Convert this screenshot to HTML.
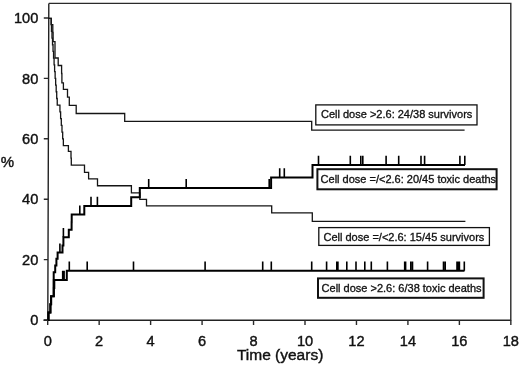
<!DOCTYPE html>
<html><head><meta charset="utf-8"><style>
html,body{margin:0;padding:0;background:#fff;}
svg{display:block;}
text{font-family:"Liberation Sans",Arial,sans-serif;fill:#111;stroke:#111;stroke-width:0.4px;}
.bx text{stroke-width:0.32px;}
</style></head><body>
<svg width="520" height="366" viewBox="0 0 520 366">
<rect width="520" height="366" fill="#fff"/>
<path d="M48.8 3.4 H510.8 V320.4" fill="none" stroke="#2a2a2a" stroke-width="1.4"/>
<path d="M48.8 3.4 L47.8 320.4 M43.5 320.3 H510.8" fill="none" stroke="#222" stroke-width="1.4"/>
<path d="M43.8 320 H47.8 M43.8 259.6 H47.99 M43.8 199.2 H48.18 M43.8 138.8 H48.37 M43.8 78.4 H48.56 M43.8 18 H48.75  M47.7 320 V325 M99.16 320 V325 M150.62 320 V325 M202.08 320 V325 M253.54 320 V325 M305 320 V325 M356.46 320 V325 M407.92 320 V325 M459.38 320 V325 M510.84 320 V325 " fill="none" stroke="#2a2a2a" stroke-width="1.4"/>
<path d="M48 18.3 L51.2 18.3 L51.2 24.6 L52.8 24.6 L52.8 32.5 L53.1 32.5 L53.1 41.6 L55 41.6 L55 50 L55 50 L55 58 L58.2 58 L58.2 65.5 L61.6 65.5 L61.6 73.5 L61.9 73.5 L61.9 82.8 L63.4 82.8 L63.4 89.4 L67.5 89.4 L67.5 97.2 L69.3 97.2 L69.3 105.4 L76.2 105.4 L76.2 113.5 L124.7 113.5 L124.7 121.4 L311.7 121.4 L311.7 130.2 L464.6 130.2 L464.6 130.2" fill="none" stroke="#151515" stroke-width="1.3"/>
<path d="M48 18.3 L51.2 18.3 L51.2 24.6 L51.46 24.6 L51.46 31.32 L51.99 31.32 L51.99 38.03 L52.51 38.03 L52.51 44.75 L53.04 44.75 L53.04 51.47 L53.56 51.47 L53.56 58.18 L54.09 58.18 L54.09 64.9 L54.61 64.9 L54.61 71.62 L55.14 71.62 L55.14 78.33 L55.66 78.33 L55.66 85.05 L56.19 85.05 L56.19 91.77 L56.71 91.77 L56.71 98.48 L57.24 98.48 L57.24 105.2 L59.94 105.2 L59.94 111.93 L60.62 111.93 L60.62 118.67 L61.31 118.67 L61.31 125.4 L61.99 125.4 L61.99 132.13 L62.68 132.13 L62.68 138.87 L63.36 138.87 L63.36 145.6 L68.4 145.6 L68.4 151.3 L71 151.3 L71 158.2 L71.3 158.2 L71.3 165.2 L84.5 165.2 L84.5 172.3 L88.6 172.3 L88.6 178.9 L97.5 178.9 L97.5 185.75 L131.4 185.75 L131.4 192.8 L139.8 192.8 L139.8 199.3 L146.5 199.3 L146.5 205.8 L271.7 205.8 L271.7 212.9 L312.3 212.9 L312.3 221.3 L465.4 221.3 L465.4 221.3" fill="none" stroke="#151515" stroke-width="1.3"/>
<path d="M48 320 L48.5 320 L48.5 312.4 L50.3 312.4 L50.3 304.2 L51 304.2 L51 296.2 L53.6 296.2 L53.6 288 L53.6 288 L53.6 280 L53.7 280 L53.7 272.2 L55.2 272.2 L55.2 265.4 L56.4 265.4 L56.4 258.8 L57.6 258.8 L57.6 252.6 L62.5 252.6 L62.5 245.6 L63.4 245.6 L63.4 237.3 L68.8 237.3 L68.8 229.7 L71.6 229.7 L71.6 222.2 L71.7 222.2 L71.7 214.6 L84.3 214.6 L84.3 205.9 L131.2 205.9 L131.2 197.3 L139.8 197.3 L139.8 188.1 L271.1 188.1 L271.1 177.5 L312.5 177.5 L312.5 165 L465 165 L465 165" fill="none" stroke="#000" stroke-width="2"/>
<path d="M48 320 L48.5 320 L48.5 312.4 L50.5 312.4 L50.5 304.2 L51.2 304.2 L51.2 296.2 L53.9 296.2 L53.9 288 L54.3 288 L54.3 279.9 L66.8 279.9 L66.8 270.7 L464.5 270.7 L464.5 270.7" fill="none" stroke="#000" stroke-width="2"/>
<path d="M59.9 252.6 V243.4 M63.4 237.3 V228.1 M79.8 214.6 V205.4 M91 205.9 V196.7 M97.4 205.9 V196.7 M148.7 188.1 V178.9 M186.2 188.1 V178.9 M269.2 188.1 V178.9 M279.7 177.5 V168.3 M284.3 177.5 V168.3 M318.5 165 V155.8 M350.3 165 V155.8 M360.8 165 V155.8 M362.8 165 V155.8 M386.1 165 V155.8 M398.7 165 V155.8 M421 165 V155.8 M424.6 165 V155.8 M459.9 165 V155.8 M464.8 165 V155.8 M62.7 279.9 V270.7 M64.1 279.9 V270.7 M69.3 270.7 V261.5 M87.2 270.7 V261.5 M133.5 270.7 V261.5 M205.1 270.7 V261.5 M262.7 270.7 V261.5 M271.3 270.7 V261.5 M311.7 270.7 V261.5 M326.6 270.7 V261.5 M336.8 270.7 V261.5 M337.9 270.7 V261.5 M346.8 270.7 V261.5 M356 270.7 V261.5 M364.8 270.7 V261.5 M371.3 270.7 V261.5 M387.4 270.7 V261.5 M404.7 270.7 V261.5 M405.6 270.7 V261.5 M410.8 270.7 V261.5 M412.5 270.7 V261.5 M427.6 270.7 V261.5 M443.5 270.7 V261.5 M445.2 270.7 V261.5 M457 270.7 V261.5 M458 270.7 V261.5 M459.4 270.7 V261.5 M464.3 270.7 V261.5" fill="none" stroke="#000" stroke-width="1.6"/>
<g font-size="14.6"><text x="38.3" y="325.1" text-anchor="end">0</text><text x="38.3" y="264.7" text-anchor="end">20</text><text x="38.3" y="204.3" text-anchor="end">40</text><text x="38.3" y="143.9" text-anchor="end">60</text><text x="38.3" y="83.5" text-anchor="end">80</text><text x="38.3" y="23.1" text-anchor="end">100</text><text x="47.7" y="345.7" text-anchor="middle">0</text><text x="99.16" y="345.7" text-anchor="middle">2</text><text x="150.62" y="345.7" text-anchor="middle">4</text><text x="202.08" y="345.7" text-anchor="middle">6</text><text x="253.54" y="345.7" text-anchor="middle">8</text><text x="305" y="345.7" text-anchor="middle">10</text><text x="356.46" y="345.7" text-anchor="middle">12</text><text x="407.92" y="345.7" text-anchor="middle">14</text><text x="459.38" y="345.7" text-anchor="middle">16</text><text x="510.84" y="345.7" text-anchor="middle">18</text></g>
<text x="0.8" y="166.7" font-size="15">%</text>
<text x="280.1" y="360.4" font-size="15.5" text-anchor="middle">Time (years)</text>
<g font-size="11" class="bx"><rect x="315.8" y="104.9" width="161.2" height="20" fill="#fff" stroke="#111" stroke-width="1.3"/><text x="321" y="118.3">Cell dose &gt;2.6: 24/38 survivors</text><rect x="317.4" y="169.2" width="179.2" height="20.1" fill="#fff" stroke="#111" stroke-width="2"/><text x="320.6" y="182.8">Cell dose =/&lt;2.6: 20/45 toxic deaths</text><rect x="318.8" y="227.6" width="170.6" height="17.8" fill="#fff" stroke="#111" stroke-width="1.3"/><text x="323.5" y="240.6">Cell dose =/&lt;2.6: 15/45 survivors</text><rect x="318" y="278.4" width="165.6" height="19.4" fill="#fff" stroke="#111" stroke-width="2"/><text x="321.6" y="291.6">Cell dose &gt;2.6: 6/38 toxic deaths</text></g>
</svg>
</body></html>
